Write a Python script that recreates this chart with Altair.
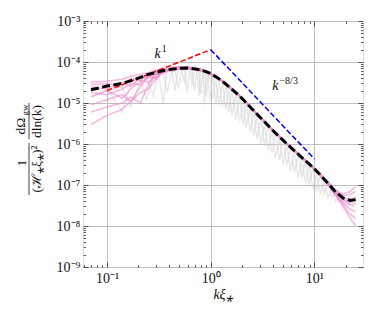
import altair as alt
import pandas as pd

# ---------------- data ----------------
k = [0.07, 0.1, 0.14, 0.17, 0.21, 0.25, 0.3, 0.35, 0.42, 0.5, 0.6, 0.7, 0.8, 0.9, 1.0,
     1.2, 1.4, 1.7, 2.0, 2.4, 2.8, 3.3, 4.0, 4.8, 5.7, 6.8, 8.0, 9.5, 11.3, 13.5, 16, 19, 22, 25]

mean = [2.1e-5, 2.6e-5, 3.0e-5, 3.5e-5, 4.2e-5, 5.0e-5, 5.6e-5, 6.2e-5, 6.7e-5, 7.0e-5, 7.1e-5,
        6.8e-5, 6.4e-5, 5.8e-5, 5.2e-5, 3.9e-5, 2.9e-5, 1.9e-5, 1.3e-5, 8.0e-6, 5.3e-6, 3.5e-6,
        2.1e-6, 1.35e-6, 9.0e-7, 6.0e-7, 4.1e-7, 2.8e-7, 1.8e-7, 1.1e-7, 6.8e-8, 4.8e-8, 4.2e-8, 4.4e-8]

pink_1 = [3.2e-5, 3.4e-5, 3.8e-5, 4.5e-5, 5.0e-5, 5.5e-5, 6.5e-5, 7.0e-5, 7.5e-5, 7.8e-5, 7.6e-5,
          7.2e-5, 6.8e-5, 6.1e-5, 5.4e-5, 4.1e-5, 3.0e-5, 2.0e-5, 1.35e-5, 8.3e-6, 5.5e-6, 3.6e-6,
          2.2e-6, 1.4e-6, 9.3e-7, 6.2e-7, 4.3e-7, 2.9e-7, 1.9e-7, 1.2e-7, 7.6e-8, 6.0e-8, 7.0e-8, 9.0e-8]
pink_2 = [2.8e-5, 3.0e-5, 2.6e-5, 4.0e-5, 3.5e-5, 5.5e-5, 5.0e-5, 6.8e-5, 6.2e-5, 7.5e-5, 6.8e-5,
          7.0e-5, 6.0e-5, 6.2e-5, 5.0e-5, 4.0e-5, 2.8e-5, 1.95e-5, 1.3e-5, 8.1e-6, 5.2e-6, 3.5e-6,
          2.1e-6, 1.37e-6, 9.0e-7, 6.1e-7, 4.1e-7, 2.8e-7, 1.8e-7, 1.15e-7, 7.2e-8, 5.5e-8, 5.8e-8, 7.0e-8]
pink_3 = [2.5e-5, 2.2e-5, 3.2e-5, 2.5e-5, 4.5e-5, 4.0e-5, 6.0e-5, 5.5e-5, 7.2e-5, 6.5e-5, 7.4e-5,
          6.5e-5, 6.6e-5, 5.6e-5, 5.3e-5, 3.8e-5, 2.9e-5, 1.9e-5, 1.28e-5, 7.9e-6, 5.3e-6, 3.4e-6,
          2.1e-6, 1.33e-6, 8.9e-7, 5.9e-7, 4.0e-7, 2.75e-7, 1.75e-7, 1.08e-7, 6.7e-8, 4.8e-8, 4.5e-8, 5.0e-8]
pink_4 = [1.8e-5, 1.6e-5, 2.2e-5, 3.0e-5, 2.8e-5, 4.8e-5, 4.2e-5, 6.5e-5, 6.0e-5, 7.0e-5, 7.2e-5,
          6.3e-5, 6.5e-5, 5.9e-5, 5.1e-5, 3.9e-5, 2.85e-5, 1.88e-5, 1.3e-5, 8.0e-6, 5.3e-6, 3.5e-6,
          2.1e-6, 1.35e-6, 9.0e-7, 6.0e-7, 4.1e-7, 2.8e-7, 1.78e-7, 1.07e-7, 6.4e-8, 4.2e-8, 3.4e-8, 3.5e-8]
pink_5 = [1.4e-5, 2.0e-5, 1.3e-5, 2.2e-5, 3.5e-5, 3.2e-5, 5.2e-5, 5.8e-5, 6.8e-5, 7.2e-5, 6.9e-5,
          6.9e-5, 6.2e-5, 5.7e-5, 5.2e-5, 3.9e-5, 2.9e-5, 1.9e-5, 1.3e-5, 8.0e-6, 5.3e-6, 3.5e-6,
          2.1e-6, 1.35e-6, 9.0e-7, 6.0e-7, 4.1e-7, 2.8e-7, 1.77e-7, 1.05e-7, 6.1e-8, 3.7e-8, 2.6e-8, 2.2e-8]
pink_6 = [9.0e-6, 1.2e-5, 1.6e-5, 1.1e-5, 2.5e-5, 4.5e-5, 3.8e-5, 6.0e-5, 6.4e-5, 6.8e-5, 7.3e-5,
          6.6e-5, 6.3e-5, 5.8e-5, 5.1e-5, 3.9e-5, 2.9e-5, 1.9e-5, 1.3e-5, 8.0e-6, 5.3e-6, 3.5e-6,
          2.1e-6, 1.35e-6, 9.0e-7, 6.0e-7, 4.1e-7, 2.8e-7, 1.76e-7, 1.03e-7, 5.8e-8, 3.3e-8, 2.0e-8, 1.5e-8]
pink_7 = [6.0e-6, 8.0e-6, 1.0e-5, 1.4e-5, 1.0e-5, 2.8e-5, 4.8e-5, 5.2e-5, 6.6e-5, 7.1e-5, 7.0e-5,
          6.7e-5, 6.4e-5, 5.8e-5, 5.2e-5, 3.9e-5, 2.9e-5, 1.9e-5, 1.3e-5, 8.0e-6, 5.3e-6, 3.5e-6,
          2.1e-6, 1.35e-6, 9.0e-7, 6.0e-7, 4.1e-7, 2.8e-7, 1.75e-7, 1.02e-7, 5.5e-8, 2.9e-8, 1.6e-8, 1.0e-8]
pink_8 = [3.0e-6, 5.0e-6, 7.0e-6, 1.1e-5, 1.8e-5, 2.2e-5, 4.0e-5, 6.0e-5, 6.5e-5, 7.0e-5, 7.1e-5,
          6.7e-5, 6.4e-5, 5.8e-5, 5.2e-5, 3.9e-5, 2.9e-5, 1.9e-5, 1.3e-5, 8.0e-6, 5.3e-6, 3.5e-6,
          2.1e-6, 1.35e-6, 9.0e-7, 6.0e-7, 4.1e-7, 2.8e-7, 1.8e-7, 1.1e-7, 6.8e-8, 4.5e-8, 3.8e-8, 4.0e-8]

gray_k = [0.07, 0.1, 0.14, 0.17, 0.21, 0.24, 0.28, 0.31, 0.35, 0.38, 0.42, 0.45, 0.49, 0.52, 0.56,
          0.59, 0.63, 0.66, 0.7, 0.73, 0.77, 0.8, 0.84, 0.87, 0.91, 0.94, 0.98, 1.05, 1.12, 1.2,
          1.3, 1.4, 1.5, 1.6, 1.75, 1.9, 2.05, 2.2, 2.4, 2.6, 2.8, 3.05, 3.3, 3.6, 3.9, 4.2, 4.6,
          5.0, 5.4, 5.9, 6.4, 7.0, 7.6, 8.2, 8.9, 9.7, 10.5, 11.4, 12.4, 13.5, 14.7, 16, 17.4,
          19, 20.6, 22.4, 24.4]
gray_a = [2.0e-5, 2.3e-5, 6e-6, 3.0e-5, 3.8e-5, 1.2e-5, 5.0e-5, 5.5e-5, 1.0e-5, 6.5e-5, 7.0e-5,
          2.0e-5, 8.0e-5, 7.5e-5, 3.0e-5, 8.5e-5, 7.8e-5, 2.5e-5, 8.0e-5, 7.0e-5, 1.5e-5, 7.0e-5,
          6.5e-5, 9e-6, 6.0e-5, 5.8e-5, 1.2e-5, 4.8e-5, 1.0e-5, 3.8e-5, 8e-6, 2.8e-5, 6e-6, 2.1e-5,
          4e-6, 1.5e-5, 3e-6, 1.0e-5, 2e-6, 6.5e-6, 1.3e-6, 4.3e-6, 9e-7, 2.9e-6, 6e-7, 1.9e-6,
          4e-7, 1.35e-6, 3e-7, 8.5e-7, 2e-7, 5.8e-7, 1.5e-7, 4.0e-7, 1.0e-7, 2.7e-7, 7e-8, 1.8e-7,
          6e-8, 1.1e-7, 5e-8, 7e-8, 4e-8, 4.5e-8, 3.5e-8, 3.2e-8, 3.0e-8]
gray_b = [1.5e-5, 2.0e-5, 2.5e-5, 8e-6, 3.5e-5, 4.2e-5, 1.5e-5, 5.0e-5, 5.5e-5, 1.8e-5, 6.0e-5,
          6.2e-5, 2.2e-5, 6.5e-5, 6.6e-5, 1.8e-5, 6.5e-5, 6.3e-5, 2.0e-5, 6.0e-5, 5.9e-5, 1.6e-5,
          5.5e-5, 5.4e-5, 1.4e-5, 5.0e-5, 4.8e-5, 1.3e-5, 3.9e-5, 9e-6, 3.1e-5, 7e-6, 2.3e-5, 5e-6,
          1.6e-5, 3.5e-6, 1.1e-5, 2.5e-6, 7.2e-6, 1.6e-6, 4.8e-6, 1.0e-6, 3.2e-6, 7e-7, 2.1e-6,
          4.5e-7, 1.4e-6, 3.2e-7, 1.0e-6, 2.2e-7, 6.5e-7, 1.5e-7, 4.3e-7, 1.1e-7, 3.0e-7, 8e-8,
          2.0e-7, 6e-8, 1.3e-7, 5e-8, 8e-8, 4e-8, 5e-8, 3.5e-8, 3.5e-8, 3.2e-8, 3.0e-8]

red_k = [0.1, 1.0]
red_y = [2e-5, 2e-4]
blue_k = [1.0, 10.0]
blue_y = [2e-4, 4.3e-7]

ann_k = [0.33, 4.5]
ann_y = [1.25e-4, 2.1e-5]
ann_base = ["k", "k"]
ann_sup = ["1", "\u22128/3"]

x_major = [0.1, 1, 10]
x_major_labels = ["10\u207b\u00b9", "10\u2070", "10\u00b9"]
x_minor = [0.06, 0.07, 0.08, 0.09, 0.2, 0.3, 0.4, 0.5, 0.6, 0.7, 0.8, 0.9,
           2, 3, 4, 5, 6, 7, 8, 9, 20]
y_major = [1e-9, 1e-8, 1e-7, 1e-6, 1e-5, 1e-4, 1e-3]
y_major_labels = ["10\u207b\u2079", "10\u207b\u2078", "10\u207b\u2077", "10\u207b\u2076",
                  "10\u207b\u2075", "10\u207b\u2074", "10\u207b\u00b3"]
y_minor = [m * d for d in [1e-9, 1e-8, 1e-7, 1e-6, 1e-5, 1e-4] for m in range(2, 10)]

x_domain = [0.0587, 29.4]
y_domain = [1e-9, 1e-3]

# ---------------- tables ----------------
pinks = [pink_1, pink_2, pink_3, pink_4, pink_5, pink_6, pink_7, pink_8]
pink_df = pd.DataFrame([{"k": kk, "v": vv, "s": f"p{i}"}
                        for i, ser in enumerate(pinks) for kk, vv in zip(k, ser)])
gray_df = pd.DataFrame([{"k": kk, "v": vv, "s": name}
                        for name, ser in [("a", gray_a), ("b", gray_b)]
                        for kk, vv in zip(gray_k, ser)])
mean_df = pd.DataFrame({"k": k, "v": mean})
red_df = pd.DataFrame({"k": red_k, "v": red_y})
blue_df = pd.DataFrame({"k": blue_k, "v": blue_y})
ann_df = pd.DataFrame({"k": ann_k, "v": ann_y, "base": ann_base, "sup": ann_sup})
one = pd.DataFrame({"a": [0]})

FONT = "Liberation Serif"
xs = alt.Scale(type="log", domain=x_domain)
ys = alt.Scale(type="log", domain=y_domain)

major = "abs(log(datum.value)/LN10 - round(log(datum.value)/LN10)) < 0.01"
xlab_arr = "[" + ",".join("'" + s + "'" for s in x_major_labels) + "]"
ylab_arr = "[" + ",".join("'" + s + "'" for s in y_major_labels) + "]"
x_label_expr = f"{major} ? {xlab_arr}[round(log(datum.value)/LN10)+1] : ''"
y_label_expr = f"{major} ? {ylab_arr}[round(log(datum.value)/LN10)+9] : ''"

tick_size = {"condition": {"test": major, "value": -5}, "value": -2.5}
grid_op = {"condition": {"test": major, "value": 1}, "value": 0}

x_axis = alt.Axis(values=x_major + x_minor, labelExpr=x_label_expr, tickSize=tick_size,
                  gridOpacity=grid_op, gridColor="#b8b8b8", gridWidth=0.9,
                  tickColor="#333", tickWidth=0.8, domain=False,
                  labelFont=FONT, labelFontSize=14, labelColor="#111", labelPadding=9,
                  labelFlush=False, labelOverlap=False,
                  title="k\u03be\u204e", titleFont=FONT, titleFontSize=14,
                  titleFontStyle="italic", titleFontWeight="normal", titleColor="#111",
                  titlePadding=0)
y_axis = alt.Axis(values=y_major + y_minor, labelExpr=y_label_expr, tickSize=tick_size,
                  gridOpacity=grid_op, gridColor="#b8b8b8", gridWidth=0.9,
                  tickColor="#333", tickWidth=0.8, domain=False,
                  labelFont=FONT, labelFontSize=14, labelColor="#111", labelPadding=8,
                  labelFlush=False, labelOverlap=False, title=None)
x_axis_top = alt.Axis(values=x_major + x_minor, orient="top", labels=False, grid=False,
                      tickSize=tick_size, tickColor="#333", tickWidth=0.8, domain=False,
                      title=None)
y_axis_right = alt.Axis(values=y_major + y_minor, orient="right", labels=False, grid=False,
                        tickSize=tick_size, tickColor="#333", tickWidth=0.8, domain=False,
                        title=None)

gray = alt.Chart(gray_df).mark_line(color="#cccccc", opacity=0.45, strokeWidth=1.5).encode(
    x=alt.X("k:Q", scale=xs, axis=x_axis),
    y=alt.Y("v:Q", scale=ys, axis=y_axis),
    detail="s:N",
)
mirror = alt.Chart(mean_df).mark_line(opacity=0).encode(
    x=alt.X("k:Q", scale=xs, axis=x_axis_top),
    y=alt.Y("v:Q", scale=ys, axis=y_axis_right),
)
pink = alt.Chart(pink_df).mark_line(color="#ec86cc", opacity=0.6, strokeWidth=1.5).encode(
    x=alt.X("k:Q", scale=xs, axis=None),
    y=alt.Y("v:Q", scale=ys, axis=None),
    detail="s:N",
)
red = alt.Chart(red_df).mark_line(color="#ff0000", strokeWidth=1.5, strokeDash=[5.5, 2.4]).encode(
    x=alt.X("k:Q", scale=xs, axis=None),
    y=alt.Y("v:Q", scale=ys, axis=None),
)
blue = alt.Chart(blue_df).mark_line(color="#0000ff", strokeWidth=1.5, strokeDash=[5.5, 2.4]).encode(
    x=alt.X("k:Q", scale=xs, axis=None),
    y=alt.Y("v:Q", scale=ys, axis=None),
)
mean_line = alt.Chart(mean_df).mark_line(color="#000000", strokeWidth=3, strokeDash=[8, 3.5]).encode(
    x=alt.X("k:Q", scale=xs, axis=None),
    y=alt.Y("v:Q", scale=ys, axis=None),
)
ann_base_l = alt.Chart(ann_df).mark_text(font=FONT, fontSize=14, fontStyle="italic",
                                          align="right", baseline="alphabetic", color="#111").encode(
    x=alt.X("k:Q", scale=xs, axis=None),
    y=alt.Y("v:Q", scale=ys, axis=None),
    text="base:N",
)
ann_sup_l = alt.Chart(ann_df).mark_text(font=FONT, fontSize=10, align="left", baseline="alphabetic",
                                         dx=1, dy=-6, color="#111").encode(
    x=alt.X("k:Q", scale=xs, axis=None),
    y=alt.Y("v:Q", scale=ys, axis=None),
    text="sup:N",
)

# y-axis title built as a rotated stacked fraction
def ytext(txt, x, y, size=13.5, style="normal"):
    return alt.Chart(one).mark_text(text=txt, angle=270, font=FONT, fontSize=size,
                                    fontStyle=style, align="center", baseline="middle",
                                    color="#111").encode(x=alt.value(x), y=alt.value(y))

def yrule(x, y1, y2):
    return alt.Chart(one).mark_rule(color="#111", strokeWidth=0.8).encode(
        x=alt.value(x), y=alt.value(y1), y2=alt.value(y2))

title_layers = [
    ytext("d\u03a9", -62.5, 105),
    ytext("gw", -58.5, 89, size=9),
    yrule(-54, 82, 118),
    ytext("dln(k)", -46, 100.5),
    ytext("1", -61.5, 142),
    yrule(-54, 122, 174),
    ytext("(\u210b\u204e\u03be\u204e)\u00b2", -46, 148),
]

chart = alt.layer(gray, mirror, pink, red, blue, mean_line, ann_base_l, ann_sup_l,
                  *title_layers).resolve_axis(x="independent", y="independent").properties(
    width=280, height=246, autosize="none",
    padding={"left": 75, "top": 13, "right": 5, "bottom": 40},
).configure_view(stroke="#333", strokeWidth=1).configure(background="white")

chart.save("out.html", embed_options={"renderer": "svg", "actions": False})
